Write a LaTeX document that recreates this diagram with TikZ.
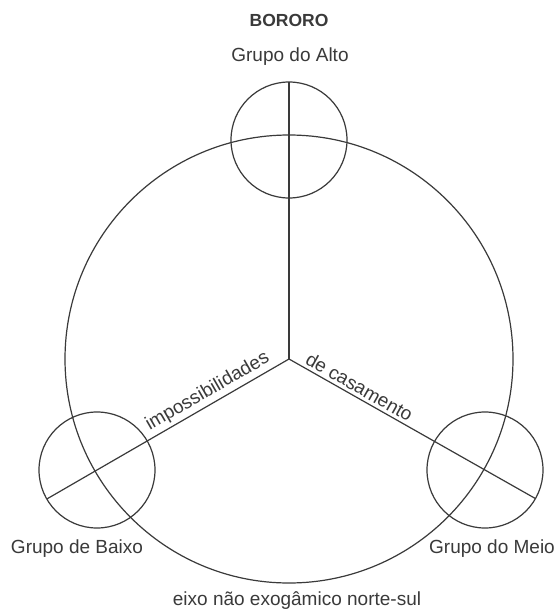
\documentclass[tikz,border=0pt]{standalone}
\usepackage{fontspec}
\setmainfont{Liberation Sans}
\definecolor{ink}{HTML}{3A3A3A}
\begin{document}
\begin{tikzpicture}[x=1pt,y=-1pt,
  line/.style={draw=ink,line width=1.2pt},
  lbl/.style={text=ink,font=\fontsize{19}{22}\selectfont,inner sep=0pt},
  ttl/.style={text=ink,font=\fontsize{17.5}{20}\selectfont\bfseries,inner sep=0pt}]
\useasboundingbox[fill=white] (0,0) rectangle (559,613);
\coordinate (J) at (289,359);
\coordinate (TC) at (289,140);
\coordinate (LC) at (97,470);
\coordinate (RC) at (485,470);
\coordinate (T) at (289,82);
\coordinate (L) at (46.8,499);
\coordinate (R) at (535.5,498.6);
\draw[line] (J) circle[radius=224];
\draw[line] (TC) circle[radius=58];
\draw[line] (LC) circle[radius=58];
\draw[line] (RC) circle[radius=58];
\draw[line] (T) -- (J);
\draw[line] (L) -- node[lbl,sloped,above=3pt,pos=0.69] {impossibilidades} (J);
\draw[line] (J) -- node[lbl,sloped,above=3pt,pos=0.265] {de casamento} (R);
\node[ttl] (bororo) at (289,20) {BORORO};
\node[lbl] (alto) at (290,57) {Grupo do Alto};
\node[lbl] (baixo) at (77,549) {Grupo de Baixo};
\node[lbl] (meio) at (492,549) {Grupo do Meio};
\node[lbl] (eixo) at (297,601) {eixo não exogâmico norte-sul};
\end{tikzpicture}
\end{document}
